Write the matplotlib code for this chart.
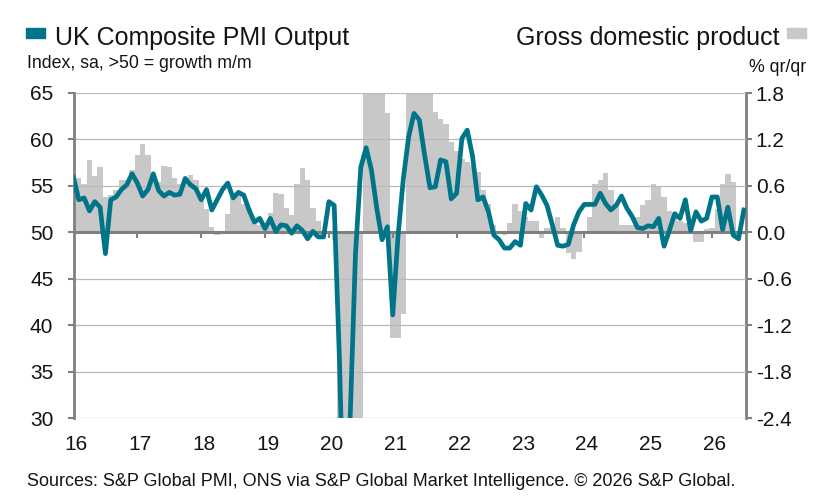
import numpy as np
import matplotlib
matplotlib.use('Agg')
import matplotlib.pyplot as plt
from matplotlib.patches import Rectangle

plt.rcParams['font.family'] = ['Liberation Sans', 'DejaVu Sans']

# x-axis year labels (one per January, starting Jan 2016)
years = ['16', '17', '18', '19', '20', '21', '22', '23', '24', '25', '26']

# UK Composite PMI Output, monthly from Jan 2016
pmi = [
    55.9, 53.5, 53.7, 52.3, 53.3, 52.7, 47.7, 53.5, 53.8, 54.6, 55.1, 56.3,
    55.3, 53.9, 54.6, 56.3, 54.5, 53.9, 54.3, 54.0, 54.1, 55.8, 55.1, 54.7,
    53.5, 54.6, 52.4, 53.5, 54.6, 55.3, 53.7, 54.3, 54.0, 52.4, 51.1, 51.5,
    50.4, 51.5, 50.1, 50.8, 50.7, 49.9, 50.7, 50.2, 49.3, 50.1, 49.5, 49.5,
    53.3, 52.9, 36.0, 13.8, 30.0, 47.7, 57.0, 59.1, 56.7, 52.6, 49.2, 50.6,
    41.1, 49.6, 55.8, 60.3, 62.8, 62.1, 58.3, 54.8, 54.9, 57.8, 57.6, 53.6,
    54.2, 60.1, 61.0, 58.2, 53.5, 53.8, 52.2, 49.7, 49.2, 48.3, 48.3, 49.0,
    48.6, 53.1, 52.4, 54.9, 54.0, 52.9, 50.8, 48.6, 48.5, 48.7, 50.8, 52.2,
    53.0, 53.0, 53.0, 54.2, 53.1, 52.4, 52.9, 53.9, 52.6, 51.7, 50.5, 50.4,
    50.7, 50.6, 51.5, 48.5, 50.2, 52.0, 51.5, 53.5, 50.2, 52.2, 51.2, 51.5,
    53.8, 53.8, 50.3, 52.7, 49.7, 49.3, 52.4,
]

# GDP % 3m/3m, monthly from Jan 2016 (2020-21 extremes run off the axis)
gdp = [
    0.70, 0.70, 0.63, 0.93, 0.73, 0.85, 0.45, 0.48, 0.55, 0.67, 0.68, 0.80,
    1.00, 1.14, 1.00, 0.65, 0.65, 0.86, 0.85, 0.70, 0.63, 0.68, 0.74, 0.67,
    0.40, 0.30, 0.07, -0.03, -0.02, 0.24, 0.44, 0.50, 0.37, 0.31, 0.16, 0.10,
    0.05, 0.25, 0.51, 0.49, 0.31, 0.22, 0.63, 0.83, 0.68, 0.31, 0.14, 0.02,
    0.00, -0.10, -2.6, -10.6, -19.6, -20.1, -7.9, 8.2, 15.8, 16.0, 4.0, 1.54,
    -1.37, -1.37, -1.05, 3.6, 4.8, 4.8, 3.6, 2.1, 1.55, 1.47, 1.40, 1.17,
    1.05, 0.95, 0.91, 0.87, 0.78, 0.55, 0.37, 0.10, 0.00, -0.03, 0.12, 0.36,
    0.27, 0.20, 0.14, 0.14, -0.08, 0.05, 0.10, 0.20, 0.05, -0.27, -0.34, -0.25,
    0.00, 0.20, 0.63, 0.67, 0.77, 0.55, 0.35, 0.10, 0.10, 0.10, 0.20, 0.35,
    0.42, 0.62, 0.60, 0.46, 0.27, 0.25, 0.14, 0.12, 0.05, -0.12, -0.12, 0.04,
    0.05, 0.30, 0.63, 0.75, 0.65,
]

pmi_ticks = [30, 35, 40, 45, 50, 55, 60, 65]
gdp_ticks = [-2.4, -1.8, -1.2, -0.6, 0.0, 0.6, 1.2, 1.8]

teal = '#007589'
bar_grey = '#c8c8c8'
axis_grey = '#808080'
text_col = '#141414'

W, H = 825, 504
fig = plt.figure(figsize=(W / 100, H / 100), dpi=100)
ax = fig.add_axes([73.5 / W, 1 - 418 / H, (746 - 73.5) / W, 325 / H])
ax2 = ax.twinx()
# line axes drawn over the bar axes
ax.set_zorder(ax2.get_zorder() + 1)
ax.patch.set_visible(False)

x_pmi = np.arange(len(pmi))
x_gdp = np.arange(len(gdp))
year_pos = np.arange(len(years)) * 12

ax2.bar(x_gdp, gdp, width=1.0, color=bar_grey, linewidth=0)
ax2.set_ylim(gdp_ticks[0], gdp_ticks[-1])
ax2.set_yticks(gdp_ticks, [f'{v:.1f}' for v in gdp_ticks])

ax.plot(x_pmi, pmi, color=teal, lw=3.4, solid_joinstyle='round', zorder=3)
ax.set_ylim(pmi_ticks[0], pmi_ticks[-1])
ax.set_yticks(pmi_ticks)
ax.set_axisbelow(True)
ax.grid(axis='y', color='#b9b9b9', lw=0.9)
ax.axhline(50, color=axis_grey, lw=2.2, zorder=2)
ax.vlines(year_pos, 49.35, 50, color=axis_grey, lw=1.5, zorder=2)

ax.set_xlim(0, len(pmi) - 1 + 0.4)
ax.set_xticks(year_pos + 0.5, years)
ax.tick_params(axis='x', length=0, pad=12, labelsize=15, labelcolor=text_col)
ax.tick_params(axis='y', direction='out', length=4.5, width=1.5, color=axis_grey,
               pad=10, labelsize=15, labelcolor=text_col)
ax2.tick_params(axis='y', direction='out', length=4.5, width=1.5, color=axis_grey,
                pad=2.5, labelsize=15, labelcolor=text_col)

for s in ['top', 'bottom', 'right']:
    ax.spines[s].set_visible(False)
for s in ['top', 'bottom', 'left']:
    ax2.spines[s].set_visible(False)
ax.spines['left'].set_color(axis_grey)
ax.spines['left'].set_linewidth(2)
ax2.spines['right'].set_color(axis_grey)
ax2.spines['right'].set_linewidth(2)

# headers and legend keys
fig.add_artist(Rectangle((26 / W, 1 - 37.5 / H), 19 / W, 9.5 / H, color=teal,
                         transform=fig.transFigure))
fig.add_artist(Rectangle((787 / W, 1 - 37.5 / H), 19 / W, 9.5 / H, color=bar_grey,
                         transform=fig.transFigure))
fig.text(55 / W, 1 - 45 / H, 'UK Composite PMI Output', fontsize=18,
         color=text_col, va='baseline')
fig.text(27 / W, 1 - 68 / H, 'Index, sa, >50 = growth m/m', fontsize=12.8,
         color=text_col, va='baseline')
fig.text(780 / W, 1 - 45 / H, 'Gross domestic product', fontsize=18,
         color=text_col, va='baseline', ha='right')
fig.text(806 / W, 1 - 72 / H, '% qr/qr', fontsize=12.8,
         color=text_col, va='baseline', ha='right')
fig.text(27 / W, 1 - 486 / H,
         'Sources: S&P Global PMI, ONS via S&P Global Market Intelligence. \u00a9 2026 S&P Global.',
         fontsize=13, color=text_col, va='baseline')

fig.savefig('out.png', dpi=100)
